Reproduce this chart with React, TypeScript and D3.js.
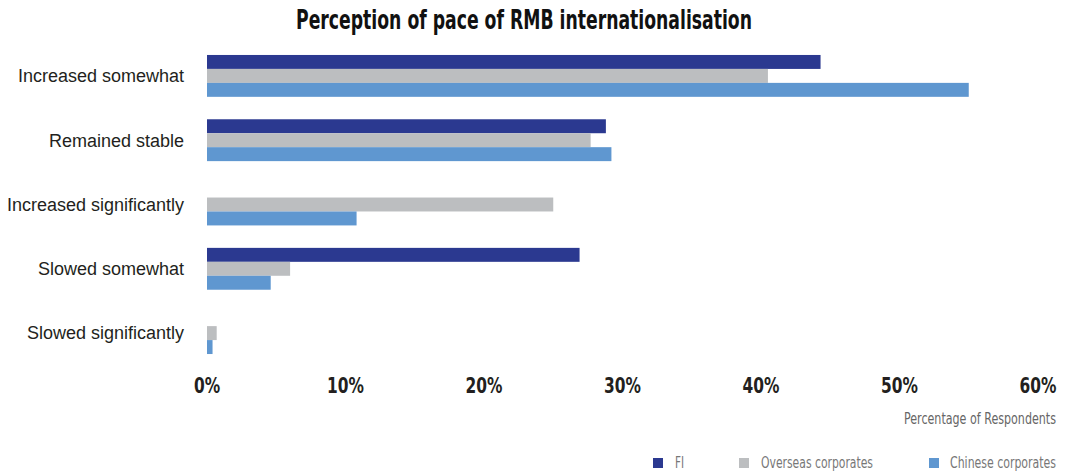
import React from "react";
import * as d3 from "d3";

const categories = [
  "Increased somewhat",
  "Remained stable",
  "Increased significantly",
  "Slowed somewhat",
  "Slowed significantly",
];
const seriesNames = ["FI", "Overseas corporates", "Chinese corporates"];
const fiValues = [44.3, 28.8, 0, 26.9, 0];
const overseasValues = [40.5, 27.7, 25.0, 6.0, 0.7];
const chineseValues = [55.0, 29.2, 10.8, 4.6, 0.4];
const colors = ["#2B3990", "#BCBEC0", "#5F97D0"];
const xTicks = [0, 10, 20, 30, 40, 50, 60];

export default function App() {
  const W = 1073;
  const H = 475;
  const x = d3.scaleLinear().domain([0, 60]).range([207, 1038]);
  const y = d3
    .scaleBand<string>()
    .domain(categories)
    .range([43.75, 365.25])
    .paddingInner(0.349)
    .paddingOuter(0.1745);
  const series = [fiValues, overseasValues, chineseValues];
  const inner = d3
    .scaleBand<number>()
    .domain([0, 1, 2])
    .range([0, y.bandwidth()]);
  const narrow = "'DejaVu Sans Condensed', 'Liberation Sans', sans-serif";
  const legendX = [653, 739, 929];
  const legendTextX = [675, 761, 950];
  const legendTextW = [9, 112, 106];
  return (
    <svg
      width={W}
      height={H}
      style={{ position: "absolute", left: 0, top: 0, background: "#fff" }}
    >
      <text
        x={296}
        y={29}
        textLength={456}
        lengthAdjust="spacingAndGlyphs"
        fontFamily={narrow}
        fontWeight="bold"
        fontSize={26}
        fill="#111"
      >
        Perception of pace of RMB internationalisation
      </text>
      {categories.map((c, i) => (
        <g key={c}>
          {series.map((vals, s) =>
            vals[i] > 0 ? (
              <rect
                key={s}
                x={x(0)}
                y={(y(c) as number) + (inner(s) as number)}
                width={x(vals[i]) - x(0)}
                height={inner.bandwidth()}
                fill={colors[s]}
              />
            ) : null
          )}
          <text
            x={184}
            y={(y(c) as number) + y.bandwidth() / 2}
            dy="0.35em"
            textAnchor="end"
            fontFamily="'Liberation Sans', Arial, sans-serif"
            fontSize={18}
            fill="#231F20"
          >
            {c}
          </text>
        </g>
      ))}
      {xTicks.map((t) => (
        <text
          key={t}
          transform={`translate(${x(t)},393) scale(0.78,1)`}
          textAnchor="middle"
          fontFamily={narrow}
          fontWeight="bold"
          fontSize={22}
          fill="#231F20"
        >
          {t}%
        </text>
      ))}
      <text
        x={904}
        y={424}
        textLength={152}
        lengthAdjust="spacingAndGlyphs"
        fontFamily={narrow}
        fontSize={15}
        fill="#666"
      >
        Percentage of Respondents
      </text>
      {seriesNames.map((n, i) => (
        <g key={n}>
          <rect x={legendX[i]} y={458} width={10} height={10} fill={colors[i]} />
          <text
            x={legendTextX[i]}
            y={468}
            textLength={legendTextW[i]}
            lengthAdjust="spacingAndGlyphs"
            fontFamily={narrow}
            fontSize={16}
            fill="#777"
          >
            {n}
          </text>
        </g>
      ))}
    </svg>
  );
}
